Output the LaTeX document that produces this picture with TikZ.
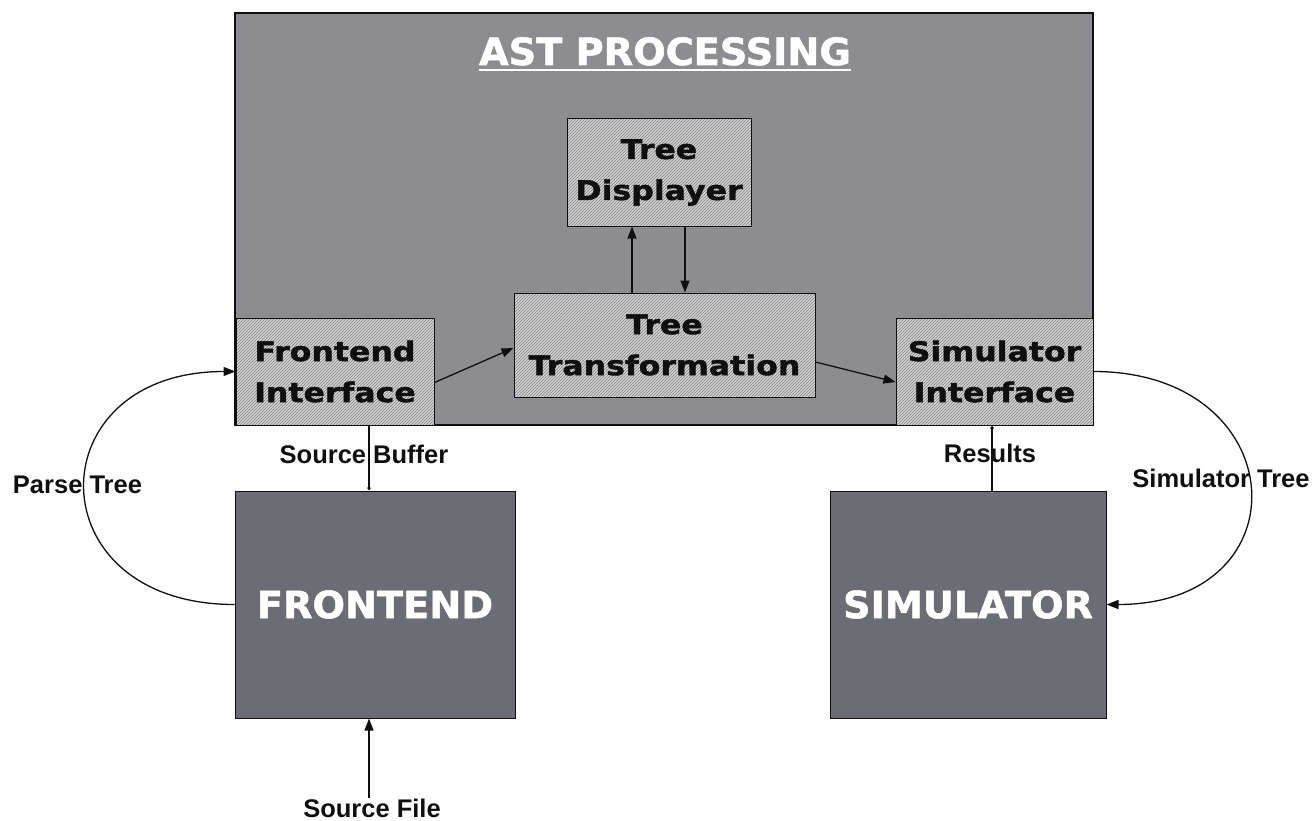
\documentclass[tikz,border=0pt]{standalone}
\usepackage{fontspec}
\setmainfont{Liberation Sans}
\newfontfamily\boxfont{DejaVu Sans}[FakeStretch=1.17,BoldFeatures={FakeBold=1.6}]
\newfontfamily\bigfont{DejaVu Sans}[FakeStretch=1.02,BoldFeatures={FakeBold=1.4}]
\usetikzlibrary{arrows.meta,patterns}
\definecolor{astbg}{RGB}{140,140,145}
\definecolor{modbg}{RGB}{108,109,116}
\definecolor{hatchbg}{RGB}{212,212,212}
\definecolor{hatchln}{RGB}{128,128,128}
\definecolor{ink}{RGB}{15,15,15}
\begin{document}
\begin{tikzpicture}[x=1pt,y=-1pt,
  astbox/.style={draw=ink, line width=1.5pt, fill=astbg, inner sep=0},
  hbox/.style={draw=ink, line width=1pt, preaction={fill=hatchbg},
    pattern=north east lines, pattern color=hatchln, inner sep=0,
    align=center, text=ink, font=\boxfont\bfseries\fontsize{27}{41}\selectfont},
  modbox/.style={draw=ink, line width=1pt, fill=modbg, inner sep=0,
    text=white, font=\bigfont\bfseries\fontsize{37.5}{45}\selectfont},
  arr/.style={-{Triangle[length=12pt,width=9pt]}, line width=1.3pt, draw=ink},
  tinyarr/.style={-{Triangle[length=3pt,width=4pt]}, line width=1.3pt, draw=ink},
  lbl/.style={font=\bfseries\fontsize{25.5}{30}\selectfont, text=ink, anchor=base, inner sep=0}]
\useasboundingbox (0,0) rectangle (1316,821);

% AST processing area
\node[astbox, minimum width=858pt, minimum height=412pt] (ast) at (664,219) {};
\node[anchor=base, inner sep=0, text=white, font=\bigfont\bfseries\fontsize{37.5}{45}\selectfont] (title) at (665,65) {AST PROCESSING};
\draw[white, line width=1.5pt] ([yshift=-5pt]title.base west) -- ([yshift=-5pt]title.base east);

% inner modules
\node[hbox, minimum width=184pt, minimum height=107pt] (td) at (659,172.5) {Tree\\Displayer};
\node[hbox, minimum width=301pt, minimum height=104pt] (tt) at (664.5,345) {Tree\\Transformation};
\node[hbox, minimum width=198pt, minimum height=107pt] (fi) at (335,371.5) {Frontend\\Interface};
\node[hbox, minimum width=197pt, minimum height=107pt] (si) at (994.5,371.5) {Simulator\\Interface};

% outer modules
\node[modbox, minimum width=280pt, minimum height=227pt] (fe) at (375,604.5) {FRONTEND};
\node[modbox, minimum width=276pt, minimum height=227pt] (sim) at (968,604.5) {SIMULATOR};

% connectors inside AST
\draw[arr] ([yshift=-11pt]fi.east) -- ([yshift=-3pt]tt.west);
\draw[arr] ([yshift=-17pt]tt.east) -- ([yshift=-10.5pt]si.west);
\draw[arr] ([xshift=-32.5pt]tt.north) -- ([xshift=-27pt]td.south);
\draw[arr] ([xshift=26pt]td.south) -- ([xshift=20.5pt]tt.north);

% connectors outside
\draw[tinyarr] ([xshift=34pt]fi.south) -- ([xshift=-6pt]fe.north);
\draw[tinyarr] ([xshift=24pt]sim.north) -- ([xshift=-2.5pt]si.south);
\coordinate (sf) at (369,798);
\draw[arr] (sf) -- ([xshift=-6pt]fe.south);
\draw[arr] (fe.west) .. controls +(-200,0) and +(-200,0) .. (fi.west);
\draw[arr] (si.east) .. controls +(200,0) and +(200,0) .. (sim.east);

% labels
\node[lbl] (lpt) at (77.5,493) {Parse Tree};
\node[lbl] (lsb) at (364,463) {Source Buffer};
\node[lbl] (lres) at (990,462) {Results};
\node[lbl] (lst) at (1221,487) {Simulator Tree};
\node[lbl] (lsf) at (372,817) {Source File};
\end{tikzpicture}
\end{document}
